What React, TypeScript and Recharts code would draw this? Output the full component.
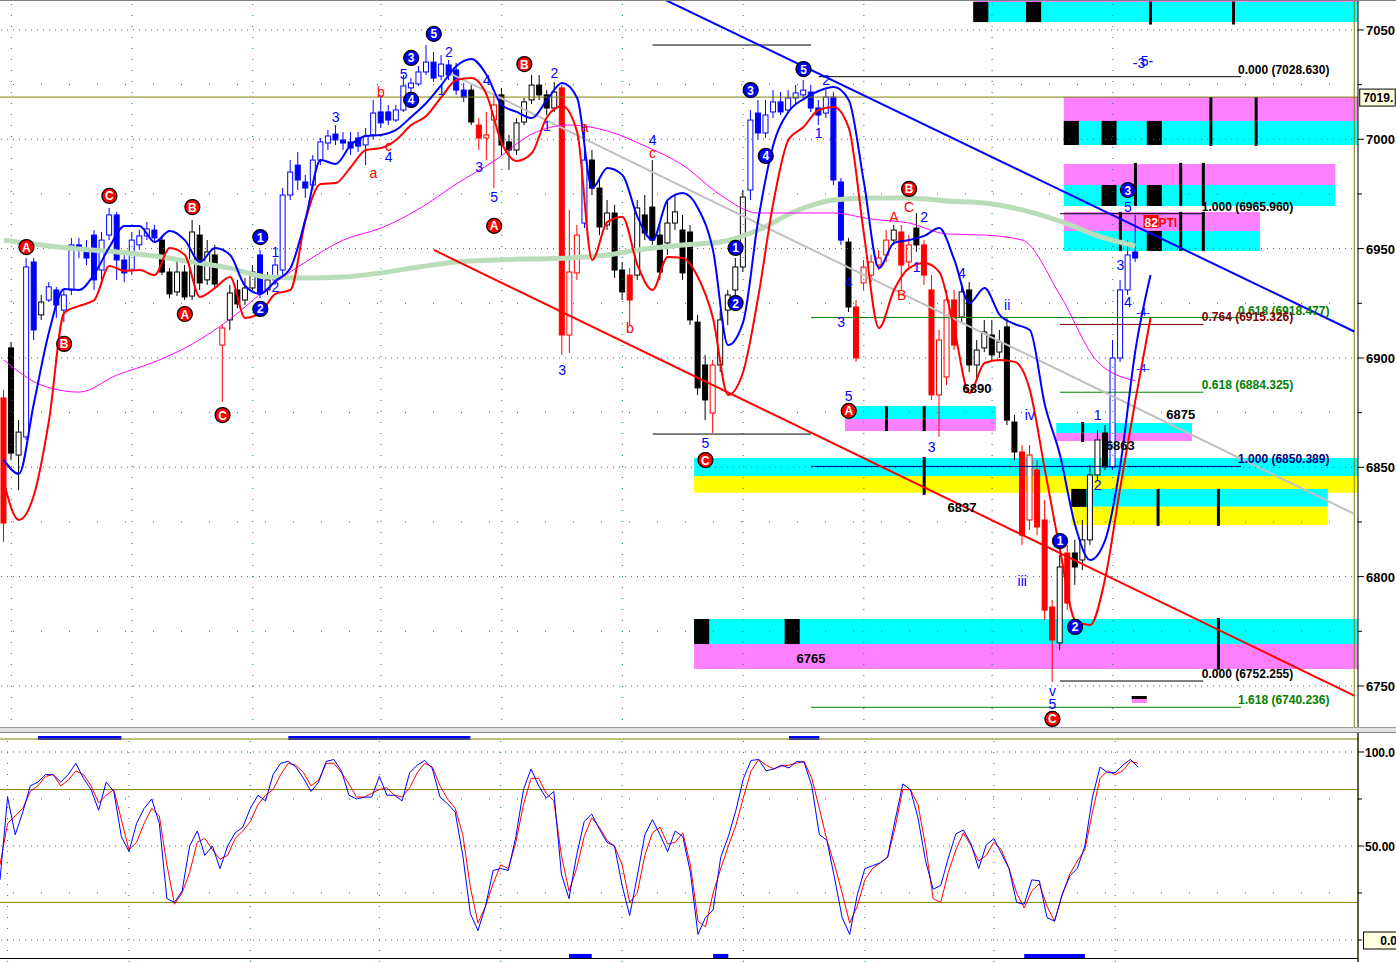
import React from "react";
import { ComposedChart, Bar, Line, XAxis, YAxis, ReferenceArea, ReferenceLine, ReferenceDot } from "recharts";

const FONT = "'Liberation Sans', Arial, sans-serif";
const SLOTS = 180;
const CYAN = "#00ffff";
const PINK = "#ff80ff";
const YELLOW = "#ffff00";
const BLACK = "#000000";
const TEAL = "#008080";
const OLIVE = "#808000";

// open, high, low, close
const ohlc: [number, number, number, number][] = [
  [6881.7, 6885.4, 6815.8, 6824.5], [6904.6, 6907.3, 6853.3, 6856.5], [6855.6, 6871.6, 6839.6, 6866.1], [6863.9, 6945.7, 6862.5, 6941.6],
  [6943.9, 6945.7, 6908.2, 6912.8], [6919.7, 6928.8, 6917.4, 6925.6], [6926.5, 6934.7, 6925.6, 6932.5], [6931.1, 6932.5, 6918.3, 6924.2],
  [6921.9, 6931.1, 6916.4, 6928.8], [6931.1, 6954.9, 6928.8, 6951.7], [6951.7, 6954.9, 6945.7, 6949.4], [6949.4, 6953.9, 6942.5, 6945.7],
  [6956.2, 6958.5, 6931.1, 6935.7], [6940.2, 6957.6, 6935.7, 6953.9], [6956.2, 6968.6, 6953.9, 6965.4], [6965.4, 6966.8, 6935.7, 6944.8],
  [6944.8, 6947.1, 6934.7, 6938.9], [6940.2, 6957.6, 6937.9, 6953.9], [6951.7, 6958.5, 6949.4, 6955.8], [6955.8, 6962.2, 6953.9, 6959.0],
  [6958.5, 6960.8, 6953.0, 6954.9], [6953.9, 6955.8, 6937.9, 6939.3], [6939.3, 6941.1, 6927.4, 6929.3], [6930.2, 6943.9, 6928.3, 6939.3],
  [6939.3, 6942.5, 6926.5, 6927.9], [6928.3, 6963.1, 6926.5, 6957.6], [6956.2, 6960.8, 6931.1, 6934.3], [6935.7, 6953.9, 6933.4, 6948.5],
  [6947.1, 6951.7, 6932.0, 6933.8], [6905.9, 6915.1, 6879.9, 6913.7], [6917.4, 6933.4, 6912.8, 6929.7], [6931.1, 6935.7, 6922.8, 6924.7],
  [6926.5, 6936.6, 6924.2, 6932.0], [6932.0, 6942.5, 6930.2, 6939.3], [6947.1, 6949.4, 6927.4, 6929.7], [6931.1, 6939.3, 6928.8, 6935.7],
  [6935.7, 6945.7, 6933.4, 6942.5], [6940.2, 6977.7, 6937.9, 6974.5], [6974.5, 6990.5, 6972.2, 6985.0], [6988.2, 6994.2, 6976.8, 6981.4],
  [6980.5, 6983.7, 6973.2, 6977.7], [6979.1, 6992.8, 6976.8, 6990.5], [6990.5, 7000.6, 6988.2, 6998.8], [6998.3, 7004.3, 6995.1, 7001.5],
  [7002.4, 7006.5, 6997.4, 6999.7], [6999.7, 7003.3, 6995.1, 6998.3], [6998.8, 7003.3, 6992.8, 6996.0], [7000.6, 7003.3, 6994.2, 6996.9],
  [6997.4, 7005.2, 6988.2, 7001.5], [7002.0, 7018.0, 6999.7, 7012.0], [7012.5, 7020.3, 7005.2, 7007.5], [7012.5, 7015.7, 7006.5, 7008.8],
  [7008.8, 7015.7, 7007.9, 7013.4], [7013.4, 7029.4, 7012.5, 7024.4], [7023.5, 7028.0, 7021.6, 7025.7], [7025.3, 7033.5, 7024.4, 7030.8],
  [7030.8, 7043.1, 7029.4, 7035.3], [7035.3, 7039.9, 7026.2, 7028.0], [7028.9, 7038.5, 7027.1, 7034.4], [7034.0, 7036.3, 7027.1, 7029.4],
  [7031.7, 7034.9, 7020.3, 7022.5], [7022.5, 7025.7, 7017.1, 7019.3], [7022.5, 7024.8, 7006.5, 7007.9], [7006.5, 7009.7, 6995.1, 7000.6],
  [7000.6, 7012.5, 6990.5, 7002.0], [7008.8, 7020.3, 6977.7, 7015.7], [7020.3, 7023.5, 6992.8, 6997.4], [6998.8, 7002.0, 6986.0, 6995.1],
  [6995.1, 7009.7, 6992.8, 7007.5], [7007.9, 7018.9, 7006.5, 7017.1], [7018.0, 7029.4, 7016.1, 7024.8], [7024.8, 7029.4, 7018.0, 7020.3],
  [7020.3, 7022.5, 7011.1, 7014.3], [7014.3, 7026.2, 7012.5, 7021.6], [7023.5, 7024.8, 6901.4, 6910.5], [6910.5, 6967.7, 6902.3, 6939.3],
  [6938.9, 6960.8, 6935.7, 6956.2], [6961.7, 7006.5, 6959.4, 6990.5], [6990.5, 6995.1, 6974.5, 6977.7], [6977.7, 6981.4, 6956.2, 6959.9],
  [6960.8, 6972.2, 6958.5, 6966.3], [6966.3, 6970.0, 6936.6, 6940.2], [6940.2, 6943.9, 6926.5, 6930.2], [6937.9, 6941.1, 6915.1, 6926.5],
  [6937.9, 6972.2, 6935.7, 6968.6], [6965.4, 6974.5, 6953.9, 6957.1], [6969.0, 6990.5, 6951.7, 6953.9], [6956.2, 6960.8, 6935.7, 6939.3],
  [6952.6, 6972.2, 6947.1, 6961.7], [6961.7, 6974.5, 6958.5, 6966.8], [6958.5, 6965.4, 6935.7, 6938.9], [6957.6, 6960.8, 6915.1, 6917.4],
  [6916.4, 6919.7, 6883.1, 6886.3], [6896.8, 6901.4, 6871.6, 6880.8], [6874.8, 6899.1, 6865.7, 6896.8], [6896.8, 6921.9, 6893.6, 6917.4],
  [6921.9, 6931.1, 6915.1, 6928.8], [6931.1, 6945.7, 6927.4, 6941.6], [6941.6, 6976.8, 6939.3, 6973.6], [6976.8, 7013.4, 6972.2, 7008.8],
  [7012.0, 7018.0, 6999.7, 7002.9], [7002.9, 7018.0, 7000.6, 7011.1], [7012.5, 7022.5, 7009.7, 7017.1], [7017.1, 7021.6, 7011.1, 7012.5],
  [7013.4, 7022.5, 7012.5, 7018.9], [7018.9, 7024.8, 7016.1, 7021.2], [7020.3, 7027.1, 7018.9, 7022.5], [7021.6, 7024.8, 7012.5, 7014.3],
  [7014.3, 7018.0, 7006.5, 7011.1], [7012.0, 7022.5, 7009.7, 7019.3], [7019.3, 7021.6, 6979.1, 6981.4], [6980.5, 6982.3, 6951.7, 6953.9],
  [6953.0, 6954.9, 6921.0, 6923.3], [6923.3, 6926.5, 6898.2, 6900.0], [6934.3, 6944.8, 6931.1, 6941.6], [6937.9, 6947.1, 6934.7, 6943.9],
  [6942.5, 6949.4, 6940.2, 6945.7], [6947.1, 6958.5, 6943.9, 6953.9], [6953.9, 6960.8, 6951.7, 6958.5], [6957.6, 6960.8, 6931.1, 6942.5],
  [6943.9, 6956.2, 6940.2, 6951.7], [6959.4, 6966.3, 6948.5, 6951.7], [6951.7, 6953.9, 6933.4, 6937.9], [6931.1, 6937.9, 6880.8, 6883.1],
  [6883.1, 6912.8, 6863.9, 6908.2], [6891.3, 6931.1, 6887.6, 6926.5], [6926.5, 6931.1, 6903.6, 6905.9], [6918.7, 6934.7, 6916.4, 6930.2],
  [6931.1, 6934.7, 6893.6, 6896.8], [6896.8, 6908.2, 6889.9, 6903.6], [6904.6, 6917.4, 6902.7, 6911.9], [6910.5, 6917.4, 6899.1, 6901.4],
  [6902.7, 6912.8, 6900.0, 6907.3], [6914.2, 6918.3, 6869.3, 6871.6], [6870.7, 6873.9, 6853.3, 6857.0], [6857.0, 6860.2, 6814.5, 6819.0],
  [6825.9, 6860.2, 6821.3, 6855.6], [6848.8, 6853.3, 6819.0, 6822.7], [6825.9, 6835.0, 6780.2, 6784.7], [6786.1, 6789.3, 6751.8, 6771.0],
  [6769.7, 6809.9, 6766.5, 6804.4], [6810.8, 6814.5, 6784.7, 6787.9], [6810.8, 6816.8, 6796.2, 6804.4], [6807.6, 6825.9, 6803.0, 6816.8],
  [6816.8, 6851.1, 6814.5, 6846.5], [6846.5, 6867.1, 6844.2, 6862.5], [6865.7, 6869.3, 6848.8, 6850.1], [6850.1, 6908.2, 6848.8, 6900.0],
  [6900.0, 6935.7, 6898.2, 6931.1], [6931.1, 6953.9, 6928.8, 6947.1], [6948.5, 6965.4, 6943.9, 6945.7],
];

// b = blue trend bar, r = red trend bar, k = neutral (black / white)
const tones =
  "rkkbbkbbbb" + "bbbbbbbbbb" + "bkkkkkkkkr" + "kkkkbkbbbb" + "bbbbbbbbbb" +
  "bbbbbbbbbb" + "bbkrrrkkkk" + "kkkkrrrbkk" + "kkkrkkkkkk" + "kkkkrkkkkb" +
  "bbbbbbbbbb" + "bbkrrrrrkr" + "rkrrrrrkkk" + "kkkkkrrrrr" + "krkkkkkbbbb";

// fast channel lines, one value every 2 bars
const BAND_STEP = 2;
const blueBand = [
  6853.4, 6847.0, 6879.4, 6911.9, 6931.5, 6931.1, 6938.4, 6950.7, 6960.4, 6960.4,
  6953.0, 6958.1, 6953.9, 6943.9, 6950.3, 6947.1, 6932.9, 6929.3, 6935.2, 6941.1,
  6963.6, 6990.5, 6988.7, 6997.4, 7001.5, 7002.0, 7004.3, 7010.2, 7016.6, 7024.8,
  7033.5, 7036.7, 7029.4, 7015.7, 7012.5, 7009.7, 7018.0, 7025.7, 7018.9, 6977.7,
  6986.9, 6983.7, 6964.5, 6953.9, 6972.2, 6975.4, 6968.6, 6949.4, 6905.9, 6916.4,
  6963.1, 6997.4, 7012.5, 7018.4, 7022.1, 7023.9, 7018.0, 6980.5, 6941.1, 6952.6,
  6953.9, 6955.8, 6959.4, 6944.8, 6925.1, 6932.0, 6919.7, 6915.5, 6912.8, 6878.5,
  6855.6, 6823.6, 6807.6, 6816.8, 6851.1, 6903.6, 6937.9,
];
const redBand = [
  6843.3, 6825.9, 6837.3, 6871.6, 6920.6, 6923.8, 6926.5, 6942.1, 6939.8, 6940.2,
  6937.9, 6950.3, 6947.1, 6927.9, 6932.0, 6937.0, 6918.3, 6920.6, 6929.3, 6931.1,
  6963.1, 6979.6, 6980.0, 6987.3, 6995.1, 6996.0, 6999.7, 7006.5, 7010.7, 7019.3,
  7027.1, 7028.0, 7020.3, 6998.3, 6990.1, 6993.7, 7010.2, 7015.2, 7003.3, 6944.8,
  6962.2, 6964.5, 6942.5, 6931.1, 6946.2, 6945.7, 6937.0, 6918.3, 6883.1, 6893.6,
  6927.9, 6970.9, 6999.7, 7005.6, 7013.4, 7014.8, 7005.2, 6957.1, 6913.7, 6931.1,
  6941.1, 6943.4, 6939.3, 6912.8, 6884.0, 6897.7, 6899.1, 6898.2, 6885.4, 6848.8,
  6812.2, 6780.2, 6777.9, 6799.4, 6841.0, 6880.8, 6918.3,
];

// slow averages, one value every 5 bars
const AVG_STEP = 5;
const pinkAvg = [
  6899.1, 6887.6, 6884.4, 6892.2, 6898.2, 6906.4, 6917.8, 6932.0, 6943.9, 6953.9,
  6959.4, 6968.1, 6979.6, 6990.1, 7002.4, 7006.5, 7003.8, 6996.9, 6988.2, 6974.5,
  6966.3, 6966.3, 6966.3, 6963.5, 6961.7, 6956.7, 6956.2, 6953.9, 6928.8, 6898.2,
  6889.5,
];
const greenAvg = [
  6953.9, 6951.7, 6949.8, 6948.5, 6946.6, 6943.9, 6941.1, 6937.0, 6936.6, 6937.0,
  6938.9, 6941.6, 6943.9, 6944.8, 6945.3, 6945.7, 6947.1, 6949.8, 6951.7, 6953.0,
  6958.5, 6967.2, 6972.2, 6973.2, 6973.2, 6971.8, 6970.9, 6967.7, 6962.6, 6955.8,
  6951.2,
];

// straight trendlines: [bar, price]
const blueTrend = [[80, 7076.5], [179, 6912.1]];
const redTrend = [[57, 6949.4], [179, 6745.6]];
const grayTrend = [[59, 7030.4], [179, 6828.7]];

// stochastic %K and %D
const stochK = [
  32, 76, 56, 68, 82, 84, 88, 88, 84, 88,
  94, 86, 80, 69, 84, 79, 55, 47, 62, 70,
  75, 62, 22, 20, 26, 50, 58, 45, 50, 38,
  50, 57, 60, 70, 77, 74, 88, 94, 95, 92,
  86, 79, 84, 95, 96, 90, 77, 75, 76, 76,
  87, 77, 77, 74, 89, 93, 95.5, 91, 76, 72.5,
  68, 45, 14, 5, 18, 37, 38, 37, 55, 80,
  91, 82, 75.5, 79, 35, 22, 45, 63, 67, 59,
  52, 50, 29, 13, 34, 56, 64, 56, 47, 58,
  55, 36, 3, 12, 16, 44, 55, 69, 86, 95.5,
  96, 90, 91, 93, 91.5, 95, 94.5, 82, 56, 53,
  33, 12, 3, 24, 38, 39.5, 41, 44, 64, 83,
  80, 65, 42, 27, 29, 43.6, 56.5, 58.5, 51, 38,
  50.5, 54, 46, 38, 20, 19, 32, 31.5, 12, 10,
  24, 34, 38, 50, 76, 92, 89, 89, 93, 96,
  92,
];
const stochD = [
  40, 62, 66, 70, 79, 82, 87, 88, 82, 85,
  90, 88, 82, 73, 77, 80, 64, 48, 52, 62,
  70, 66, 40, 19, 25, 36, 52, 54, 48, 43,
  45, 54, 58, 63, 72, 77, 80, 88, 94, 93,
  89, 82, 85, 94, 94, 89, 83, 76, 76, 78,
  80, 81, 77, 76, 81, 89, 94, 92, 82, 75,
  70, 56, 28, 9, 18, 30, 40, 38, 52, 72,
  86, 86, 78, 74, 45, 26, 38, 55, 65, 60,
  53, 50, 40, 20, 25, 45, 57, 60, 51, 52,
  57, 40, 10, 7, 25, 38, 50, 61, 76, 90,
  96, 93, 91, 92.5, 93, 94, 95, 86, 70, 53,
  40, 25, 9, 18, 32, 38, 41, 44, 60, 80,
  80, 72, 50, 22, 20, 36, 48, 57, 50, 42,
  45, 52, 48, 38, 25, 17, 26, 30, 18, 10,
  24, 35, 42, 48, 68, 86, 90, 88, 90, 95,
  94,
];

const priceTicks = [6750, 6775, 6800, 6825, 6850, 6875, 6900, 6925, 6950, 6975, 7000, 7025, 7050];
const stochTicks = [0, 25, 50, 75, 100];
const dateGrid = [1, 17, 33, 50, 66, 82, 98, 114, 131, 147];

// target zones: [fromBar, toBar, low, high, colour]
const zones: [number, number, number, number, string][] = [
  [129, 179, 7053.6, 7062.8, CYAN], [129, 179, 7062.8, 7063.7, PINK], [129, 130, 7053.6, 7062.8, BLACK], [136, 137, 7053.6, 7062.8, BLACK],
  [141, 179, 7008.4, 7019.3, PINK], [141, 179, 6997.4, 7008.4, CYAN],
  [141, 142, 6997.4, 7008.4, BLACK], [146, 147, 6997.4, 7008.4, BLACK], [152, 153, 6997.4, 7008.4, BLACK],
  [141, 176, 6979.1, 6988.7, PINK], [141, 176, 6969.5, 6979.1, CYAN],
  [146, 147, 6969.5, 6979.1, BLACK], [152, 153, 6969.5, 6979.1, BLACK],
  [141, 166, 6958.1, 6966.8, PINK], [141, 166, 6948.9, 6958.1, CYAN], [152, 153, 6948.9, 6958.1, BLACK],
  [112, 131, 6872.1, 6878.0, CYAN], [112, 131, 6866.6, 6872.1, PINK],
  [140, 157, 6865.7, 6870.3, CYAN], [140, 157, 6862.0, 6865.7, PINK],
  [92, 179, 6846.0, 6854.3, CYAN], [92, 179, 6838.3, 6846.0, YELLOW],
  [142, 175, 6831.9, 6840.1, CYAN], [142, 175, 6823.6, 6831.9, YELLOW], [142, 143, 6831.9, 6840.1, BLACK],
  [92, 179, 6769.2, 6780.6, CYAN], [92, 179, 6757.8, 6769.2, PINK],
  [92, 93, 6769.2, 6780.6, BLACK], [104, 105, 6769.2, 6780.6, BLACK],
  [150, 151, 6744.0, 6745.4, BLACK], [150, 151, 6742.2, 6744.0, PINK],
];

// black markers inside zones: [bar, top, bottom]
const zoneTicks: [number, number, number][] = [
  [152, 7063.0, 7052.5], [163, 7063.0, 7052.5],
  [160, 7019.3, 6997.0], [166, 7019.3, 6997.0],
  [150, 6989.2, 6969.5], [156, 6989.2, 6969.5], [159, 6989.2, 6969.5],
  [148, 6966.8, 6948.9], [156, 6966.8, 6948.9], [159, 6966.8, 6948.9],
  [117, 6878.0, 6866.6], [122, 6878.0, 6866.6],
  [143, 6870.7, 6861.6],
  [122, 6854.7, 6837.4],
  [153, 6840.1, 6823.2], [161, 6840.1, 6823.2],
  [161, 6781.1, 6757.4],
];

// fibonacci levels: [fromBar, toBar, price, colour, caption]
const fibLevels: [number, number, number, string, string][] = [
  [108, 164, 7028.63, "#000000", "0.000 (7028.630)"],
  [140, 159, 6965.96, "#000000", "1.000 (6965.960)"],
  [107, 164, 6918.477, "#008000", "0.618 (6918.477)"],
  [140, 159, 6915.326, "#800000", "0.764 (6915.326)"],
  [140, 159, 6884.325, "#008000", "0.618 (6884.325)"],
  [107, 164, 6850.389, "#000080", "1.000 (6850.389)"],
  [140, 159, 6752.255, "#000000", "0.000 (6752.255)"],
  [107, 164, 6740.236, "#008000", "1.618 (6740.236)"],
  [86, 107, 7043.1, "#000000", ""],
  [86, 107, 6865.2, "#000000", ""],
];

// wave labels: [bar, price, text, style]  rc/bc = red/blue disc, rt/bt = red/blue text, kt = black value
const waveLabels: [number, number, string, string][] = [
  [3, 6950.7, "A", "rc"], [8, 6906.4, "B", "rc"], [14, 6974.1, "C", "rc"], [24, 6920.1, "A", "rc"],
  [25, 6969.0, "B", "rc"], [29, 6873.9, "C", "rc"], [65, 6960.4, "A", "rc"], [69, 7034.4, "B", "rc"],
  [93, 6853.3, "C", "rc"], [112, 6875.8, "A", "rc"], [120, 6977.3, "B", "rc"], [139, 6734.9, "C", "rc"],
  [34, 6955.3, "1", "bc"], [34, 6922.4, "2", "bc"], [54, 7037.2, "3", "bc"], [54, 7018.0, "4", "bc"],
  [57, 7048.2, "5", "bc"], [99, 7022.5, "3", "bc"], [101, 6992.4, "4", "bc"], [106, 7032.1, "5", "bc"],
  [97, 6950.3, "1", "bc"], [97, 6925.1, "2", "bc"], [140, 6816.3, "1", "bc"], [142, 6777.0, "2", "bc"],
  [149, 6976.8, "3", "bc"],
  [44, 7010.2, "3", "bt"], [53, 7029.9, "5", "bt"], [59, 7039.9, "2", "bt"], [58, 7022.5, "1", "bt"],
  [64, 7027.1, "4", "bt"], [63, 6987.3, "3", "bt"], [65, 6973.6, "5", "bt"], [73, 7030.3, "2", "bt"],
  [72, 7006.1, "1", "bt"], [74, 6894.5, "3", "bt"], [86, 6999.7, "4", "bt"], [93, 6861.1, "5", "bt"],
  [108, 7002.9, "1", "bt"], [109, 7027.1, "2", "bt"], [112, 6882.6, "5", "bt"], [111, 6916.4, "3", "bt"],
  [112, 6934.7, "4", "bt"], [121, 6941.6, "1", "bt"], [122, 6964.5, "2", "bt"], [127, 6938.9, "4", "bt"],
  [123, 6859.3, "3", "bt"], [133, 6924.2, "ii", "bt"], [136, 6873.9, "iv", "bt"], [135, 6798.0, "iii", "bt"],
  [139, 6747.7, "v", "bt"], [139, 6741.8, "5", "bt"], [145, 6873.9, "1", "bt"], [145, 6841.9, "2", "bt"],
  [148, 6942.5, "3", "bt"], [149, 6925.6, "4", "bt"], [149, 6969.0, "5", "bt"], [51, 6991.9, "4", "bt"],
  [36, 6948.5, "1", "bt"], [36, 6932.5, "2", "bt"],
  [151, 7034.9, "-3-5-", "bx"], [151, 6921.0, "-4-", "bs"], [151, 6895.4, "-4-", "bs"],
  [50, 7021.6, "b", "rt"], [51, 6996.9, "c", "rt"], [49, 6984.6, "a", "rt"], [77, 7005.6, "a", "rt"],
  [86, 6993.7, "c", "rt"], [83, 6913.7, "b", "rt"], [118, 6964.5, "A", "rt"], [120, 6969.0, "C", "rt"],
  [119, 6928.8, "B", "rt"],
  [129, 6886.3, "6890", "kt"], [127, 6831.8, "6837", "kt"], [107, 6762.8, "6765", "kt"],
  [156, 6874.4, "6875", "kt"], [148, 6860.2, "6863", "kt"],
];

// stochastic signal strips: [fromBar, toBar, top?]
const stochStrips: [number, number, boolean][] = [
  [5, 16, true], [38, 62, true], [104, 108, true],
  [75, 78, false], [94, 96, false], [126, 126, false], [135, 143, false],
];

const priceRows = Array.from({ length: SLOTS }, (_, i) => {
  const row: Record<string, any> = { i };
  const bar = ohlc[i];
  if (bar) {
    const [o, h, l, c] = bar;
    Object.assign(row, { o, h, l, c, t: tones[i], span: [l, h] });
  }
  if (i % BAND_STEP === 0) {
    if (blueBand[i / BAND_STEP] !== undefined) row.blue = blueBand[i / BAND_STEP];
    if (redBand[i / BAND_STEP] !== undefined) row.red = redBand[i / BAND_STEP];
  }
  if (i % AVG_STEP === 0) {
    if (pinkAvg[i / AVG_STEP] !== undefined) row.pink = pinkAvg[i / AVG_STEP];
    if (greenAvg[i / AVG_STEP] !== undefined) row.green = greenAvg[i / AVG_STEP];
  }
  return row;
});
for (const [i, p] of blueTrend) priceRows[i].tBlue = p;
for (const [i, p] of redTrend) priceRows[i].tRed = p;
for (const [i, p] of grayTrend) priceRows[i].tGray = p;

const stochRows = Array.from({ length: SLOTS }, (_, i) => ({ i, k: stochK[i], d: stochD[i] }));

function Candle(props: any) {
  const { x, y, width, height, payload } = props;
  if (!payload || payload.o == null || !isFinite(y) || !isFinite(height)) return null;
  const { o, h, l, c, t } = payload;
  const range = h - l || 1;
  const at = (v: number) => y + ((h - v) / range) * height;
  const color = t === "b" ? "#0000ff" : t === "r" ? "#ff0000" : "#000000";
  const top = at(Math.max(o, c));
  const bottom = at(Math.min(o, c));
  const mid = x + width / 2;
  return (
    <g>
      <line x1={mid} x2={mid} y1={y} y2={y + height} stroke={color} strokeWidth={1} />
      <rect x={x} y={top} width={width} height={Math.max(1, bottom - top)} fill={c >= o ? "#ffffff" : color} stroke={color} strokeWidth={1} />
    </g>
  );
}

function WaveMark({ cx, cy, text, kind }: any) {
  if (cx == null || cy == null) return null;
  if (kind === "rc" || kind === "bc") {
    return (
      <g>
        <circle cx={cx} cy={cy} r={7.5} fill={kind === "rc" ? "#ff0000" : "#0000ff"} stroke="#000" strokeWidth={1.2} />
        <text x={cx} y={cy + 4.5} textAnchor="middle" fontSize={12} fontWeight="bold" fill="#fff" fontFamily={FONT}>{text}</text>
      </g>
    );
  }
  if (kind === "kt") {
    return <text x={cx} y={cy + 5} textAnchor="middle" fontSize={13} fontWeight="bold" fill="#000" fontFamily={FONT}>{text}</text>;
  }
  if (kind === "bs") {
    return <text x={cx} y={cy + 4} textAnchor="middle" fontSize={11} fill="#0000ff" fontFamily={FONT}>{text}</text>;
  }
  if (kind === "bx") {
    // two overlapping wave counts printed on the same spot
    const [a, b] = text.split("-").filter(Boolean);
    return (
      <g fill="#0000ff" fontFamily={FONT} fontSize={14}>
        <text x={cx - 4} y={cy + 5} textAnchor="middle">{"-" + a}</text>
        <text x={cx + 4} y={cy + 3} textAnchor="middle">{b + "-"}</text>
      </g>
    );
  }
  return (
    <text x={cx} y={cy + 5} textAnchor="middle" fontSize={14} fill={kind === "rt" ? "#ff0000" : "#0000ff"} fontFamily={FONT}>{text}</text>
  );
}

function FibCaption({ cx, cy, text, color, shift }: any) {
  if (cx == null) return null;
  return <text x={cx + shift} y={cy - 3} fontSize={12} fontWeight="bold" fill={color} fontFamily={FONT}>{text}</text>;
}

function PriceTick(props: any) {
  const { x, y, payload } = props;
  const major = payload.value % 50 === 0;
  return (
    <g>
      <line x1={x} x2={x + (major ? 6 : 4)} y1={y} y2={y} stroke="#000" />
      {major && (
        <text x={x + 8} y={y + 5} fontSize={13} fontWeight="bold" fill="#000" fontFamily={FONT}>{payload.value}</text>
      )}
    </g>
  );
}

function StochTick(props: any) {
  const { x, y, payload } = props;
  const v = payload.value;
  const text = v === 100 ? "100.0" : v === 50 ? "50.00" : "";
  return (
    <g>
      <line x1={x} x2={x + (text ? 6 : 4)} y1={y} y2={y} stroke="#000" />
      {text && <text x={x + 7} y={y + 5} fontSize={12} fontWeight="bold" fill="#000" fontFamily={FONT}>{text}</text>}
    </g>
  );
}

function ValueBox({ cx, cy, text }: any) {
  if (cx == null) return null;
  return (
    <g>
      <rect x={cx + 5.5} y={cy - 8} width={35.5} height={17} fill="#ffffe0" stroke="#000" strokeWidth={1} />
      <text x={cx + 39} y={cy + 5} textAnchor="end" fontSize={12} fontWeight="bold" fill="#000" fontFamily={FONT}>{text}</text>
    </g>
  );
}

function PtiTag({ cx, cy }: any) {
  if (cx == null) return null;
  return (
    <g>
      <rect x={cx - 7} y={cy - 7} width={15} height={13} fill="#ff0000" />
      <text x={cx - 6} y={cy + 5} fontSize={12} fontWeight="bold" fill="#fff" fontFamily={FONT}>82</text>
      <text x={cx + 8} y={cy + 5} fontSize={12} fontWeight="bold" fill="#ff0000" fontFamily={FONT}>PTI</text>
    </g>
  );
}

export default function App() {
  return (
    <div style={{ position: "absolute", left: 0, top: 0, width: 1396, height: 962, background: "#fff", overflow: "hidden" }}>
      <div style={{ position: "absolute", left: 0, top: 0 }}>
        <ComposedChart width={1396} height={731} data={priceRows} margin={{ top: 0, right: 0, bottom: 0, left: 0 }}>
          <XAxis dataKey="i" hide allowDuplicatedCategory={false} />
          <YAxis
            orientation="right"
            width={38}
            domain={[6729.4, 7063.7]}
            allowDataOverflow
            ticks={priceTicks}
            interval={0}
            tickSize={0}
            tickMargin={0}
            tickLine={false}
            axisLine={{ stroke: "#000" }}
            tick={(p: any) => <PriceTick {...p} />}
          />
          {priceTicks.map((p) => (
            <ReferenceLine key={"g" + p} y={p} stroke={TEAL} strokeDasharray={p % 50 === 0 ? "1 5" : "1 27"} />
          ))}
          {dateGrid.map((i) => (
            <ReferenceLine key={"v" + i} x={i} stroke={TEAL} strokeDasharray="1 10" />
          ))}
          {zones.map(([x1, x2, lo, hi, fill], n) => (
            <ReferenceArea key={"z" + n} x1={x1} x2={x2} y1={lo} y2={hi} fill={fill} fillOpacity={1} stroke="none" ifOverflow="hidden" />
          ))}
          {zoneTicks.map(([i, hi, lo], n) => (
            <ReferenceLine key={"zt" + n} segment={[{ x: i, y: hi }, { x: i, y: lo }]} stroke="#000" strokeWidth={3} />
          ))}
          <ReferenceLine y={7019.3} stroke={OLIVE} />
          <ReferenceLine x={179} stroke={OLIVE} />
          {fibLevels.map(([x1, x2, p, color], n) => (
            <ReferenceLine key={"f" + n} segment={[{ x: x1, y: p }, { x: x2, y: p }]} stroke={color} strokeWidth={1} />
          ))}
          <Line dataKey="green" type="monotone" stroke="#b9dcb9" strokeWidth={5} dot={false} activeDot={false} connectNulls isAnimationActive={false} />
          <Line dataKey="tGray" type="linear" stroke="#c0c0c0" strokeWidth={2} dot={false} activeDot={false} connectNulls isAnimationActive={false} />
          <Line dataKey="pink" type="monotone" stroke="#ff00ff" strokeWidth={1} dot={false} activeDot={false} connectNulls isAnimationActive={false} />
          <Line dataKey="tRed" type="linear" stroke="#ff0000" strokeWidth={2} dot={false} activeDot={false} connectNulls isAnimationActive={false} />
          <Line dataKey="tBlue" type="linear" stroke="#0000ff" strokeWidth={2} dot={false} activeDot={false} connectNulls isAnimationActive={false} />
          <Line dataKey="red" type="monotone" stroke="#ff0000" strokeWidth={2} dot={false} activeDot={false} connectNulls isAnimationActive={false} />
          <Line dataKey="blue" type="monotone" stroke="#0000ff" strokeWidth={2} dot={false} activeDot={false} connectNulls isAnimationActive={false} />
          <Bar dataKey="span" barSize={5} isAnimationActive={false} shape={(p: any) => <Candle {...p} />} />
          {fibLevels.filter((f) => f[4]).map(([, x2, p, color, text], n) => (
            <ReferenceDot key={"fc" + n} x={x2} y={p} r={0} ifOverflow="visible"
              shape={(s: any) => <FibCaption cx={s.cx} cy={s.cy} text={text} color={color} shift={x2 === 164 ? -3 : -1.5} />} />
          ))}
          {waveLabels.map(([i, p, text, kind], n) => (
            <ReferenceDot key={"w" + n} x={i} y={p} r={8} ifOverflow="visible"
              shape={(s: any) => <WaveMark cx={s.cx} cy={s.cy} text={text} kind={kind} />} />
          ))}
          <ReferenceDot x={152} y={6962.2} r={0} ifOverflow="visible" shape={(s: any) => <PtiTag cx={s.cx} cy={s.cy} />} />
          <ReferenceDot x={179} y={7019.3} r={0} ifOverflow="visible" shape={(s: any) => <ValueBox cx={s.cx} cy={s.cy} text="7019." />} />
        </ComposedChart>
      </div>
      <div style={{ position: "absolute", left: 0, top: 0, width: 1396, height: 1, background: "#808080" }} />
      <div style={{ position: "absolute", left: 0, top: 727, width: 1396, height: 6, background: "#e0e0e0", borderTop: "1px solid #a0a0a0", borderBottom: "1px solid #808080", boxSizing: "border-box" }} />
      <div style={{ position: "absolute", left: 0, top: 733 }}>
        <ComposedChart width={1396} height={229} data={stochRows} margin={{ top: 0, right: 0, bottom: 0, left: 0 }}>
          <XAxis dataKey="i" hide allowDuplicatedCategory={false} />
          <YAxis
            orientation="right"
            width={38}
            domain={[-11.7, 110.1]}
            allowDataOverflow
            ticks={stochTicks}
            interval={0}
            tickSize={0}
            tickMargin={0}
            tickLine={false}
            axisLine={{ stroke: "#000" }}
            tick={(p: any) => <StochTick {...p} />}
          />
          {stochTicks.map((v) => (
            <ReferenceLine key={"sg" + v} y={v} stroke={TEAL} strokeDasharray={v % 50 === 0 ? "1 5" : "1 27"} />
          ))}
          {dateGrid.map((i) => (
            <ReferenceLine key={"sv" + i} x={i} stroke={TEAL} strokeDasharray="1 10" />
          ))}
          <ReferenceLine y={80} stroke={OLIVE} />
          <ReferenceLine y={20} stroke={OLIVE} />
          <ReferenceLine y={106.9} stroke={OLIVE} />
          <ReferenceLine x={179} stroke={OLIVE} />
          {stochStrips.map(([x1, x2, top], n) => (
            <ReferenceArea key={"ss" + n} x1={x1} x2={x2} y1={top ? 106.4 : -9.6} y2={top ? 108.5 : -7.4} fill="#0000ff" fillOpacity={1} stroke="none" ifOverflow="visible" />
          ))}
          <Line dataKey="d" type="linear" stroke="#ff0000" strokeWidth={1} dot={false} activeDot={false} isAnimationActive={false} />
          <Line dataKey="k" type="linear" stroke="#0000ff" strokeWidth={1} dot={false} activeDot={false} isAnimationActive={false} />
          <ReferenceDot x={179} y={0} r={0} ifOverflow="visible" shape={(s: any) => <ValueBox cx={s.cx} cy={s.cy} text="0.0" />} />
        </ComposedChart>
      </div>
      <div style={{ position: "absolute", left: 0, top: 958, width: 1358, height: 1, background: "#000" }} />
    </div>
  );
}
